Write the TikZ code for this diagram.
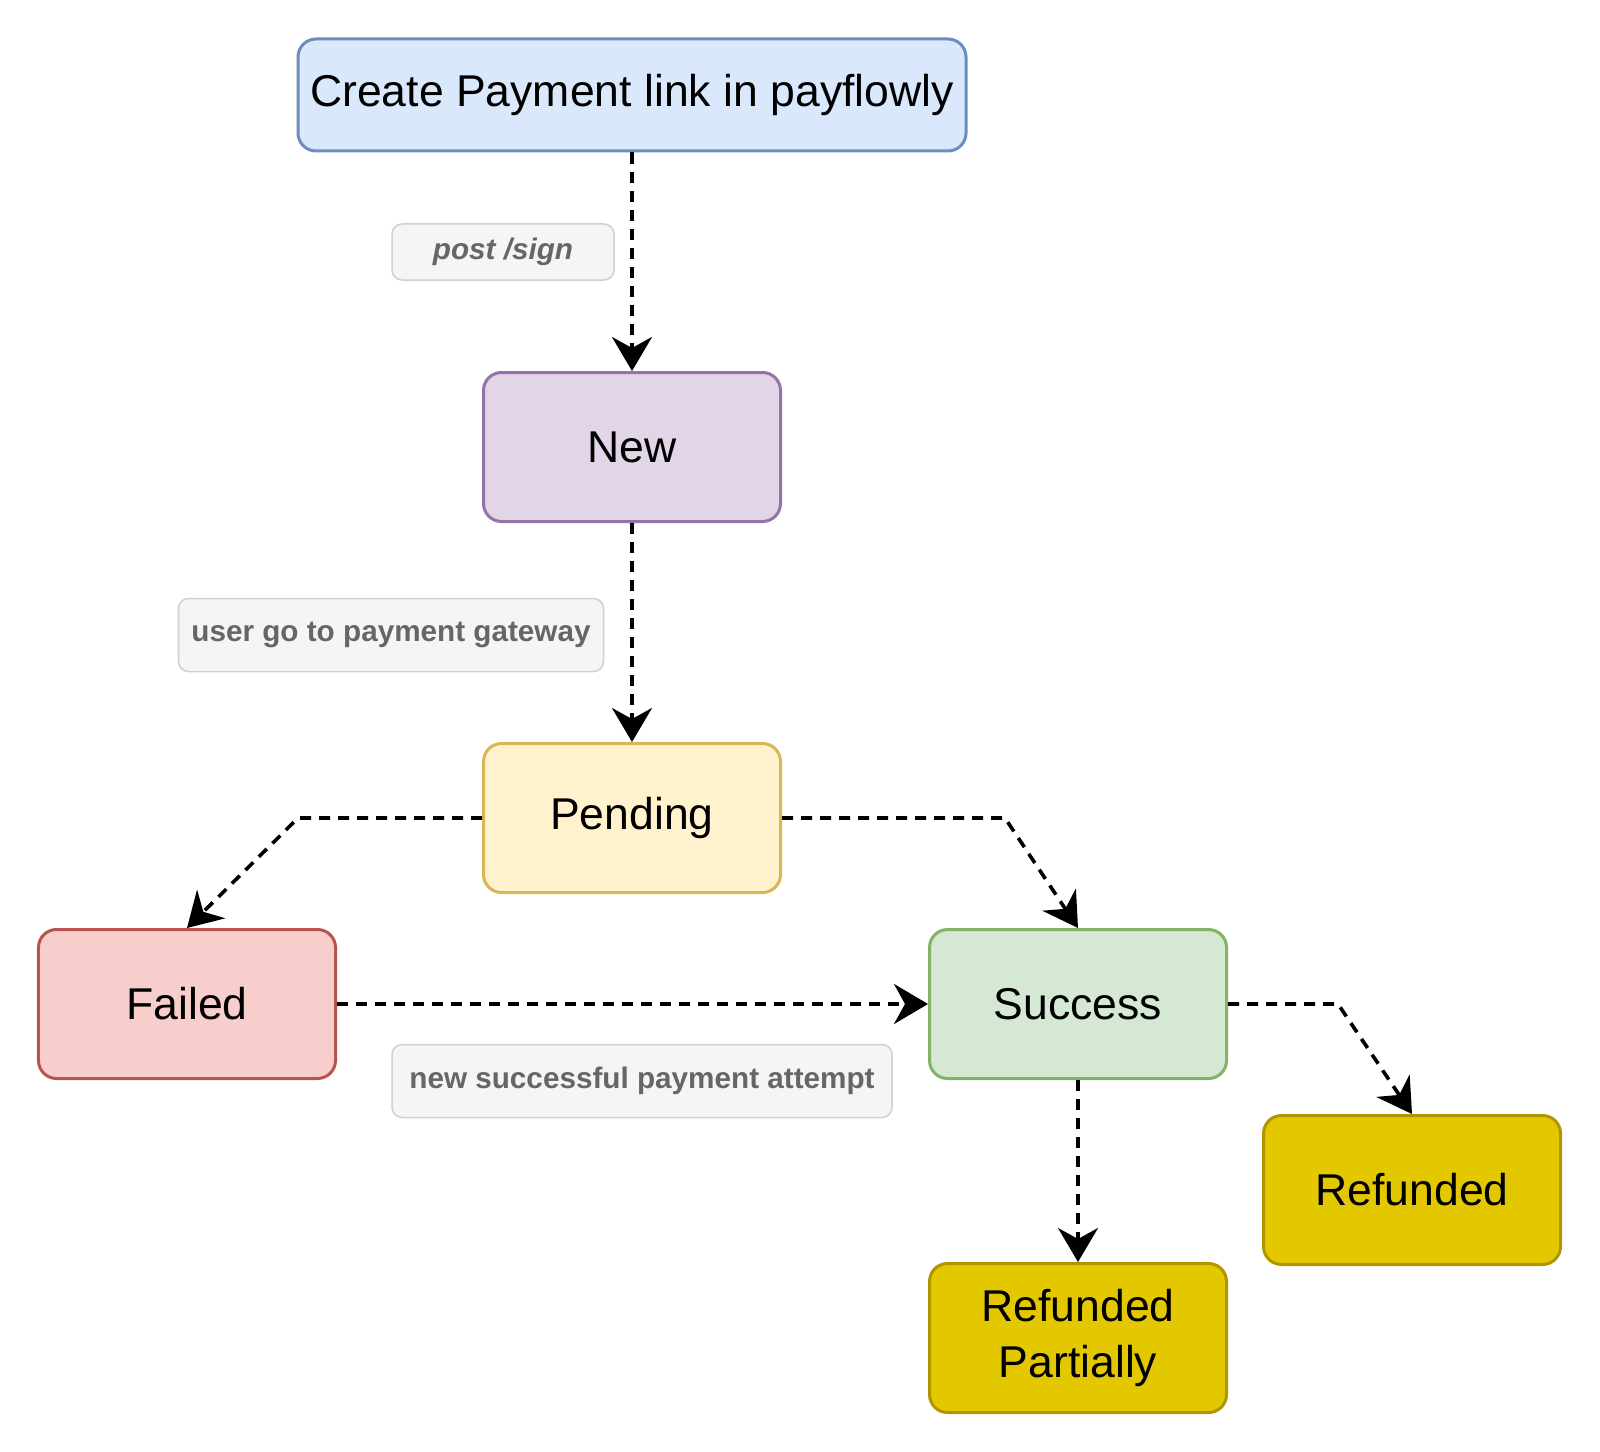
\documentclass[tikz,border=0pt]{standalone}
\usepackage{fontspec}
\setmainfont{Liberation Sans}
\usetikzlibrary{arrows.meta}
\definecolor{blueF}{HTML}{DAE8FC}\definecolor{blueD}{HTML}{6C8EBF}
\definecolor{purpF}{HTML}{E1D5E7}\definecolor{purpD}{HTML}{9673A6}
\definecolor{yellF}{HTML}{FFF2CC}\definecolor{yellD}{HTML}{D6B656}
\definecolor{redF}{HTML}{F8CECC}\definecolor{redD}{HTML}{B85450}
\definecolor{greenF}{HTML}{D5E8D4}\definecolor{greenD}{HTML}{82B366}
\definecolor{goldF}{HTML}{E3C800}\definecolor{goldD}{HTML}{B09500}
\definecolor{noteF}{HTML}{F5F5F5}\definecolor{noteD}{HTML}{D0D0D0}
\definecolor{noteT}{HTML}{666666}
\tikzset{
  state/.style={draw, line width=3bp, rounded corners=18bp, minimum width=297bp,
    minimum height=149bp, align=center, font=\fontsize{44.7}{57}\selectfont},
  note/.style={draw=noteD, fill=noteF, line width=1.5bp, rounded corners=10bp,
    text=noteT, font=\fontsize{29.8}{35}\selectfont\bfseries},
  flow/.style={line width=3.6bp, dash pattern=on 11bp off 8bp,
    -{Stealth[length=34bp,width=40bp,inset=11bp]}},
}
\begin{document}
\begin{tikzpicture}[x=1bp, y=-1bp]
      \useasboundingbox (0,0) rectangle (1600,1452);
      \node[state, fill=blueF, draw=blueD, minimum width=668bp, minimum height=112bp] (create) at (632,95) {Create Payment link in payflowly};
      \node[state, fill=purpF, draw=purpD] (new) at (632,447) {New};
      \node[state, fill=yellF, draw=yellD] (pending) at (632,818) {Pending};
      \node[state, fill=redF, draw=redD] (failed) at (187,1004) {Failed};
      \node[state, fill=greenF, draw=greenD] (success) at (1078,1004) {Success};
      \node[state, fill=goldF, draw=goldD] (refunded) at (1412,1190) {Refunded};
      \node[state, fill=goldF, draw=goldD] (partial) at (1078,1338) {Refunded\\Partially};
      \node[note, minimum width=222bp, minimum height=56bp] (l1) at (503,252) {\itshape post /sign};
      \node[note, minimum width=425bp, minimum height=73bp] (l2) at (391,635) {user go to payment gateway};
      \node[note, minimum width=500bp, minimum height=73bp] (l3) at (642,1081) {new successful payment attempt};
      \coordinate (bendL) at (298,818);
      \coordinate (bendR) at (1005,818);
      \coordinate (bendS) at (1338,1004);
      \draw [flow] (create) -- (new);
      \draw [flow] (new) -- (pending);
      \draw [flow] (pending.west) -- (bendL) -- (failed.north);
      \draw [flow] (pending.east) -- (bendR) -- (success.north);
      \draw [flow] (failed.east) -- (success.west);
      \draw [flow] (success.east) -- (bendS) -- (refunded.north);
      \draw [flow] (success) -- (partial);
    \end{tikzpicture}
\end{document}
